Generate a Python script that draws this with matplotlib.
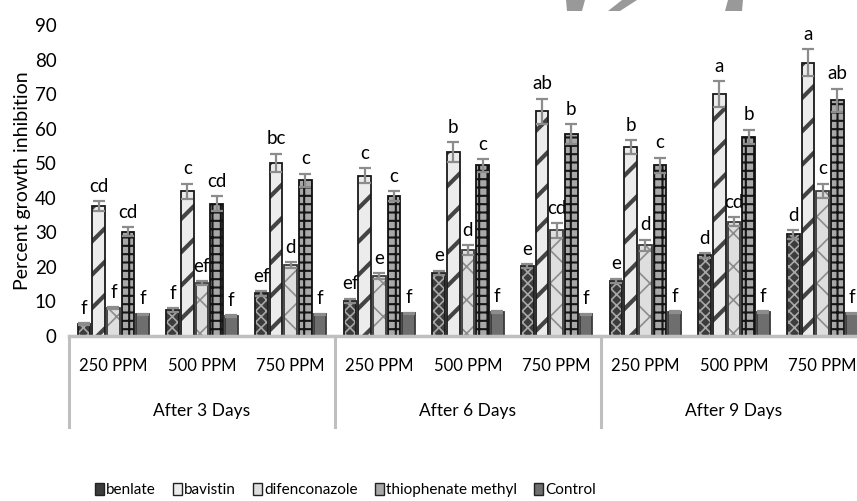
import matplotlib
matplotlib.use('Agg')
import matplotlib.pyplot as plt
from matplotlib.patches import Patch, Polygon

plt.rcParams['font.family'] = ['Lato', 'DejaVu Sans']

days = ['After 3 Days', 'After 6 Days', 'After 9 Days']
doses = ['250 PPM', '500 PPM', '750 PPM']
series = ['benlate', 'bavistin', 'difenconazole', 'thiophenate methyl', 'Control']

# one value per (day, dose) in order: 3d-250, 3d-500, 3d-750, 6d-250, ...
benlate = [3.5, 7.5, 12.3, 10.2, 18.3, 20.3, 16.0, 23.4, 29.4]
bavistin = [37.6, 41.9, 50.2, 46.4, 53.2, 65.0, 54.7, 70.1, 79.1]
difenconazole = [8.1, 15.4, 20.5, 17.3, 24.9, 30.6, 26.3, 33.0, 42.0]
thiophenate = [30.1, 38.3, 45.1, 40.5, 49.4, 58.4, 49.4, 57.6, 68.2]
control = [6.3, 5.8, 6.3, 6.6, 7.0, 6.3, 7.0, 7.0, 6.6]

benlate_err = [0.3, 0.5, 0.7, 0.6, 0.6, 0.6, 0.6, 0.7, 1.3]
bavistin_err = [1.4, 2.2, 2.6, 2.1, 2.8, 3.7, 2.1, 3.7, 4.0]
difenconazole_err = [0.3, 0.5, 0.8, 0.8, 1.4, 2.1, 1.6, 1.3, 2.1]
thiophenate_err = [1.3, 2.2, 1.9, 1.4, 1.8, 2.9, 2.2, 2.1, 3.4]
control_err = [0.2, 0.2, 0.2, 0.2, 0.2, 0.2, 0.2, 0.2, 0.2]

benlate_lbl = ['f', 'f', 'ef', 'ef', 'e', 'e', 'e', 'd', 'd']
bavistin_lbl = ['cd', 'c', 'bc', 'c', 'b', 'ab', 'b', 'a', 'a']
difenconazole_lbl = ['f', 'ef', 'd', 'e', 'd', 'cd', 'd', 'cd', 'c']
thiophenate_lbl = ['cd', 'cd', 'c', 'c', 'c', 'b', 'c', 'b', 'ab']
control_lbl = ['f'] * 9

values = [benlate, bavistin, difenconazole, thiophenate, control]
errors = [benlate_err, bavistin_err, difenconazole_err, thiophenate_err, control_err]
letters = [benlate_lbl, bavistin_lbl, difenconazole_lbl, thiophenate_lbl, control_lbl]

# face, hatch, hatch colour, edge colour, hatch width
styles = [
    ('#3c3c3c', 'xxx', '#a8a8a8', '#1a1a1a', 1.2),
    ('#ececec', '/', '#444444', '#1a1a1a', 3.0),
    ('#dedede', 'x', '#8c8c8c', '#3a3a3a', 1.2),
    ('#a8a8a8', '++', '#151515', '#111111', 1.5),
    ('#6e6e6e', '', '#6e6e6e', '#3a3a3a', 1.0),
]

fig = plt.figure(figsize=(8.57, 5.01), dpi=100)
ax = fig.add_axes([69 / 857, (501 - 336) / 501, 798 / 857, 311 / 501])

n = len(benlate)
step = 0.165
width = 0.142
for j in range(5):
    face, hatch, hcol, ecol, hlw = styles[j]
    xs = [i + 0.5 + (j - 2) * step for i in range(n)]
    plt.rcParams['hatch.linewidth'] = hlw
    bars = ax.bar(xs, values[j], width, color=face, hatch=hatch, edgecolor=hcol, linewidth=0, zorder=2)
    for b in bars:
        if hasattr(b, 'set_hatch_linewidth'):
            b.set_hatch_linewidth(hlw)
    ax.bar(xs, values[j], width, fill=False, edgecolor=ecol, linewidth=1.3, zorder=3)
    ax.errorbar(xs, values[j], yerr=errors[j], fmt='none', ecolor='#8c8c8c',
                elinewidth=1.6, capsize=4, capthick=1.6, zorder=4)
    for x, v, e, t in zip(xs, values[j], errors[j], letters[j]):
        ax.text(x, v + e + 1.8, t, ha='center', va='bottom', fontsize=13.5)

ax.set_xlim(0, 9)
ax.set_ylim(0, 90)
ax.set_yticks(range(0, 91, 10))
ax.tick_params(axis='y', length=0, pad=9, labelsize=13.5)
ax.set_xticks([])
for s in ax.spines.values():
    s.set_visible(False)
ax.set_ylabel('Percent growth inhibition', fontsize=14)
ax.yaxis.set_label_coords(-0.047, 0.5)

# two-level category axis
line_col = '#bfbfbf'
ax.plot([0, 9], [0, 0], color=line_col, lw=2.5, clip_on=False, zorder=5)
for xv in [0, 3, 6, 9]:
    ax.plot([xv, xv], [0, -26.3], color=line_col, lw=2.2, clip_on=False, zorder=5)
for g in range(3):
    for k in range(3):
        ax.text(g * 3 + k + 0.5, -8.8, doses[k], ha='center', va='center', fontsize=12)
    ax.text(g * 3 + 1.5, -21.8, days[g], ha='center', va='center', fontsize=12.5)

handles = []
for j in range(5):
    face = styles[j][0]
    handles.append(Patch(facecolor=face, edgecolor='#222222', linewidth=1.0))
fig.legend(handles, series, loc='center', bbox_to_anchor=(0.403, 0.022), ncol=5,
           frameon=False, handlelength=0.6, handleheight=0.8, handletextpad=0.15,
           columnspacing=1.1, fontsize=11)

# fragments of the watermark at the top edge
H = 501.0
for pts in [[(566, 0), (585, 0), (582, 11), (567, 11)],
            [(622, 0), (637, 0), (620, 11), (608, 11)],
            [(728, 0), (743, 0), (742, 11), (725, 11)]]:
    fig.patches.append(Polygon([(px / 857, 1 - py / H) for px, py in pts], closed=True,
                               transform=fig.transFigure, facecolor='#999999', edgecolor='none'))

fig.savefig('out.png', dpi=100)
